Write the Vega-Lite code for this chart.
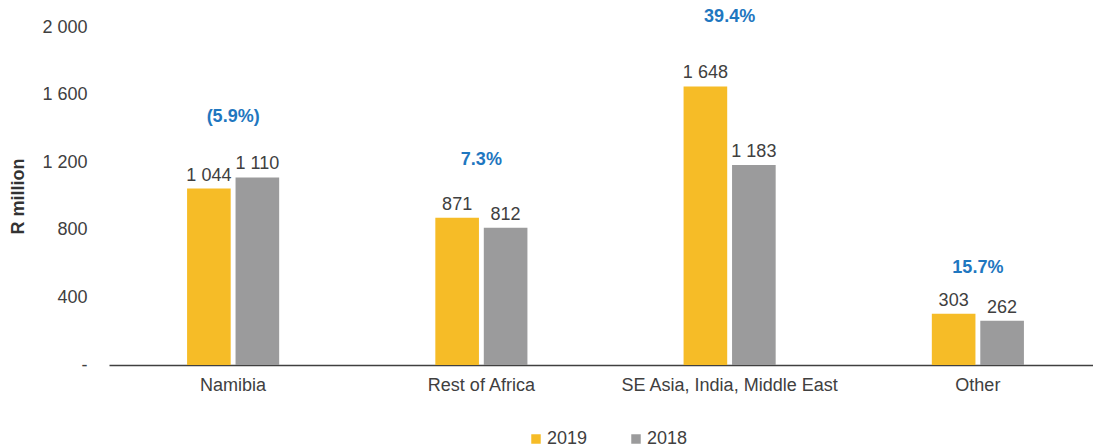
{
  "$schema": "https://vega.github.io/schema/vega-lite/v6.json",
  "width": 984,
  "height": 338,
  "autosize": {"type": "none"},
  "padding": {"left": 109, "top": 27, "right": 0, "bottom": 82},
  "background": "white",
  "config": {
    "view": {"stroke": null},
    "font": "Liberation Sans",
    "locale": {"number": {"decimal": ".", "thousands": " ", "grouping": [3], "currency": ["", ""]}}
  },
  "datasets": {
    "bars": [
      {"region": "Namibia", "year": "2019", "value": 1044},
      {"region": "Namibia", "year": "2018", "value": 1110},
      {"region": "Rest of Africa", "year": "2019", "value": 871},
      {"region": "Rest of Africa", "year": "2018", "value": 812},
      {"region": "SE Asia, India, Middle East", "year": "2019", "value": 1648},
      {"region": "SE Asia, India, Middle East", "year": "2018", "value": 1183},
      {"region": "Other", "year": "2019", "value": 303},
      {"region": "Other", "year": "2018", "value": 262}
    ],
    "growth": [
      {"region": "Namibia", "growth": "(5.9%)", "labelY": 1467},
      {"region": "Rest of Africa", "growth": "7.3%", "labelY": 1213},
      {"region": "SE Asia, India, Middle East", "growth": "39.4%", "labelY": 2059},
      {"region": "Other", "growth": "15.7%", "labelY": 574}
    ]
  },
  "layer": [
    {
      "data": {"name": "bars"},
      "mark": {"type": "bar"},
      "encoding": {
        "x": {
          "field": "region", "type": "nominal",
          "sort": ["Namibia", "Rest of Africa", "SE Asia, India, Middle East", "Other"],
          "scale": {"range": [0, 993], "paddingInner": 0.629, "paddingOuter": 0.3145},
          "axis": {"title": null, "labelAngle": 0, "labelLimit": 0, "ticks": false, "domainColor": "#404040", "domainWidth": 1.5, "labelFontSize": 18, "labelColor": "#404040", "labelPadding": 11}
        },
        "xOffset": {"field": "year", "type": "nominal", "sort": ["2019", "2018"], "scale": {"paddingInner": 0.1}},
        "y": {
          "field": "value", "type": "quantitative",
          "scale": {"domain": [0, 2000]},
          "axis": {"title": "R million", "titleFontSize": 18, "titleFontWeight": "bold", "titleColor": "#333333", "titlePadding": 14,
                   "values": [0, 400, 800, 1200, 1600, 2000], "grid": false, "domain": false, "ticks": false,
                   "labelFontSize": 18, "labelColor": "#404040", "labelPadding": 22,
                   "labelExpr": "datum.value === 0 ? '-' : replace(format(datum.value, ','), ',', ' ')"}
        },
        "color": {
          "field": "year", "type": "nominal",
          "scale": {"domain": ["2019", "2018"], "range": ["#F6BC27", "#9B9B9C"]},
          "legend": {"title": null, "orient": "none", "direction": "horizontal", "legendX": 418, "legendY": 403,
                     "symbolType": "square", "symbolSize": 90, "symbolStrokeWidth": 0, "labelFontSize": 18, "labelColor": "#404040",
                     "labelOffset": 2, "columnPadding": 39}
        }
      }
    },
    {
      "data": {"name": "bars"},
      "mark": {"type": "text", "baseline": "alphabetic", "dy": -8, "fontSize": 18, "color": "#404040"},
      "encoding": {
        "x": {"field": "region", "type": "nominal", "sort": ["Namibia", "Rest of Africa", "SE Asia, India, Middle East", "Other"]},
        "xOffset": {"field": "year", "type": "nominal", "sort": ["2019", "2018"]},
        "y": {"field": "value", "type": "quantitative"},
        "text": {"field": "value", "type": "quantitative", "format": ","}
      }
    },
    {
      "data": {"name": "growth"},
      "mark": {"type": "text", "baseline": "middle", "fontSize": 18, "fontWeight": "bold", "color": "#1F77C0"},
      "encoding": {
        "x": {"field": "region", "type": "nominal", "sort": ["Namibia", "Rest of Africa", "SE Asia, India, Middle East", "Other"]},
        "y": {"field": "labelY", "type": "quantitative"},
        "text": {"field": "growth", "type": "nominal"}
      }
    }
  ]
}
